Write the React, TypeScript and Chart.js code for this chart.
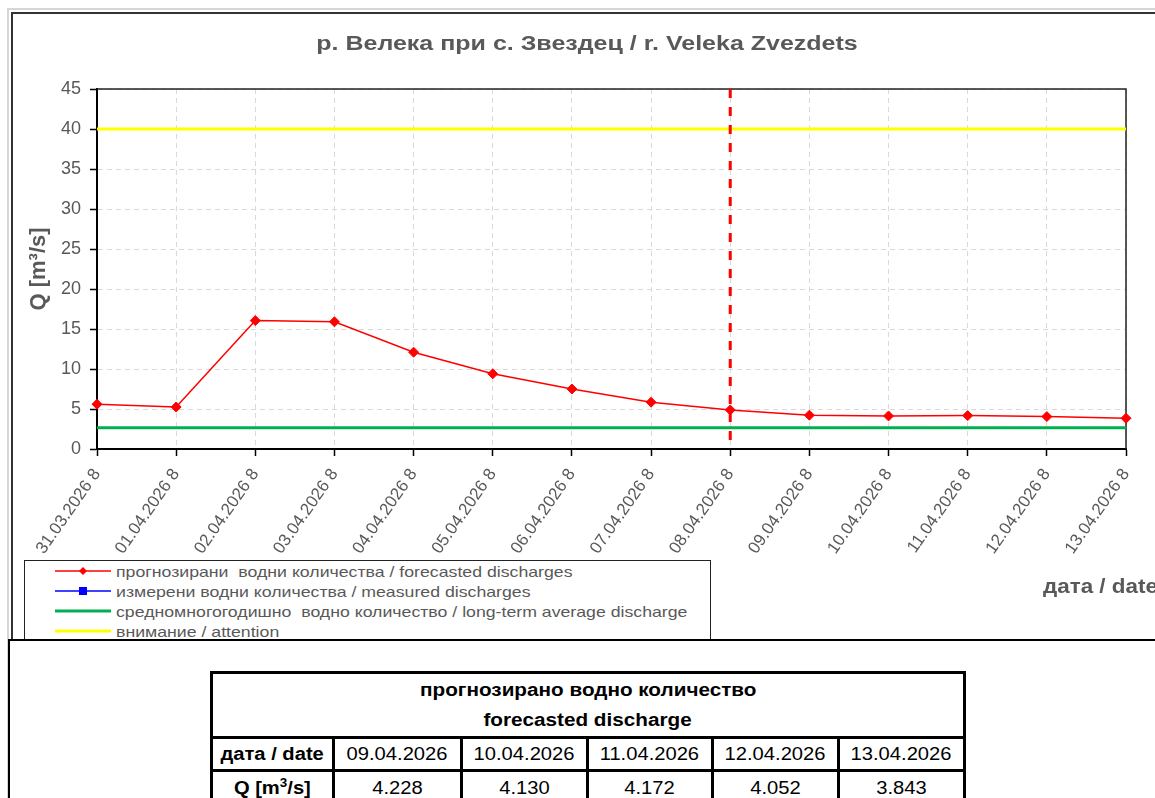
import React, { useEffect, useRef } from 'react';
import { Chart, registerables } from 'chart.js';

Chart.register(...registerables);

const FONT = '"Liberation Sans", Arial, Helvetica, sans-serif';

// ---------- data ----------
const chartTitle = 'р. Велека при с. Звездец / r. Veleka Zvezdets';
const yAxisTitle = 'Q [m³/s]';
const xAxisTitle = 'дата / date';

const categories = [
  '31.03.2026 8',
  '01.04.2026 8',
  '02.04.2026 8',
  '03.04.2026 8',
  '04.04.2026 8',
  '05.04.2026 8',
  '06.04.2026 8',
  '07.04.2026 8',
  '08.04.2026 8',
  '09.04.2026 8',
  '10.04.2026 8',
  '11.04.2026 8',
  '12.04.2026 8',
  '13.04.2026 8',
];

const forecast = [5.6, 5.25, 16.05, 15.9, 12.1, 9.4, 7.5, 5.85, 4.88, 4.228, 4.13, 4.172, 4.052, 3.843];
const measured: (number | null)[] = [];
const longTermAverage = 2.65;
const attentionLevel = 40;
const forecastStartIndex = 8;

const yMin = 0;
const yMax = 45;
const yStep = 5;

const legendLabels = [
  'прогнозирани  водни количества / forecasted discharges',
  'измерени водни количества / measured discharges',
  'средномногогодишно  водно количество / long-term average discharge',
  'внимание / attention',
];

const tableTitle = ['прогнозирано водно количество', 'forecasted discharge'];
const tableDateHeader = 'дата / date';
const tableDates = ['09.04.2026', '10.04.2026', '11.04.2026', '12.04.2026', '13.04.2026'];
const tableValues = [4.228, 4.13, 4.172, 4.052, 3.843];

// ---------- styles ----------
const GRAY_TEXT = '#595959';

function Stretch({ children, scale = 1.15, origin = 'left center', style = {} }: any) {
  return (
    <span
      style={{
        display: 'inline-block',
        transform: `scaleX(${scale})`,
        transformOrigin: origin,
        whiteSpace: 'pre',
        ...style,
      }}
    >
      {children}
    </span>
  );
}

function LegendSample({ kind }: { kind: number }) {
  const w = 56;
  const h = 12;
  const cy = h / 2;
  if (kind === 0) {
    return (
      <svg width={w} height={h}>
        <line x1={0} y1={cy} x2={w} y2={cy} stroke="#ff0000" strokeWidth={1.5} />
        <polygon points={`${w / 2 - 4},${cy} ${w / 2},${cy - 4} ${w / 2 + 4},${cy} ${w / 2},${cy + 4}`} fill="#ff0000" />
      </svg>
    );
  }
  if (kind === 1) {
    return (
      <svg width={w} height={h}>
        <line x1={0} y1={cy} x2={w} y2={cy} stroke="#0000ff" strokeWidth={1.5} />
        <rect x={w / 2 - 4} y={cy - 4} width={8} height={8} fill="#0000ff" />
      </svg>
    );
  }
  const color = kind === 2 ? '#00b050' : '#ffff00';
  return (
    <svg width={w} height={h}>
      <line x1={0} y1={cy} x2={w} y2={cy} stroke={color} strokeWidth={3.2} />
    </svg>
  );
}

export default function App() {
  const canvasRef = useRef<HTMLCanvasElement | null>(null);

  useEffect(() => {
    const canvas = canvasRef.current;
    if (!canvas) return;
    const last = categories.length - 1;

    const framePlugin = {
      id: 'plotFrame',
      beforeDatasetsDraw(chart: any) {
        const { ctx, chartArea: a } = chart;
        ctx.save();
        ctx.strokeStyle = '#222';
        ctx.lineWidth = 1.5;
        ctx.beginPath();
        ctx.moveTo(a.left, a.top);
        ctx.lineTo(a.right, a.top);
        ctx.lineTo(a.right, a.bottom);
        ctx.stroke();
        ctx.restore();
      },
    };

    const forecastStartPlugin = {
      id: 'forecastStart',
      afterDatasetsDraw(chart: any) {
        const { ctx, chartArea: a } = chart;
        const x = chart.scales.x.getPixelForValue(forecastStartIndex);
        ctx.save();
        ctx.strokeStyle = '#ff0000';
        ctx.lineWidth = 3;
        ctx.setLineDash([9, 9]);
        ctx.beginPath();
        ctx.moveTo(x, a.top);
        ctx.lineTo(x, a.bottom);
        ctx.stroke();
        ctx.restore();
      },
    };

    const chart = new Chart(canvas, {
      type: 'line',
      data: {
        labels: categories,
        datasets: [
          {
            label: legendLabels[0],
            data: forecast,
            borderColor: '#ff0000',
            backgroundColor: '#ff0000',
            borderWidth: 1.5,
            pointStyle: 'rectRot',
            pointRadius: 5,
            pointBorderWidth: 1,
            tension: 0,
            order: 1,
          },
          {
            label: legendLabels[1],
            data: measured,
            borderColor: '#0000ff',
            backgroundColor: '#0000ff',
            borderWidth: 1.5,
            pointStyle: 'rect',
            pointRadius: 4,
            order: 2,
          },
          {
            label: legendLabels[2],
            data: [
              { x: categories[0], y: longTermAverage },
              { x: categories[last], y: longTermAverage },
            ],
            borderColor: '#00b050',
            borderWidth: 3,
            pointRadius: 0,
            order: 3,
          },
          {
            label: legendLabels[3],
            data: [
              { x: categories[0], y: attentionLevel },
              { x: categories[last], y: attentionLevel },
            ],
            borderColor: '#ffff00',
            borderWidth: 3,
            pointRadius: 0,
            order: 4,
          },
        ] as any,
      },
      options: {
        responsive: false,
        animation: false,
        devicePixelRatio: 1,
        layout: { padding: { top: 89, right: 29, left: 0, bottom: 0 } },
        plugins: {
          legend: { display: false },
          title: { display: false },
          tooltip: { enabled: false },
        },
        scales: {
          x: {
            type: 'category',
            offset: false,
            grid: {
              color: '#d9d9d9',
              lineWidth: 1,
              tickColor: '#000',
              tickLength: 7,
              tickWidth: 1.5,
            },
            border: { display: true, color: '#000', width: 2, dash: [5, 4] },
            ticks: {
              autoSkip: false,
              minRotation: 55,
              maxRotation: 55,
              padding: 9,
              color: GRAY_TEXT,
              font: { family: FONT, size: 17 },
            },
            afterFit: (s: any) => {
              s.height = 191;
            },
          },
          y: {
            min: yMin,
            max: yMax,
            grid: {
              color: '#d9d9d9',
              lineWidth: 1,
              tickColor: '#000',
              tickLength: 7,
              tickWidth: 1.5,
            },
            border: { display: true, color: '#000', width: 2, dash: [5, 4] },
            ticks: {
              stepSize: yStep,
              padding: 9,
              color: GRAY_TEXT,
              font: { family: FONT, size: 18 },
            },
            title: {
              display: true,
              text: yAxisTitle,
              color: GRAY_TEXT,
              font: { family: FONT, size: 22, weight: 'bold' },
              padding: { top: 26, bottom: 0 },
            },
            afterFit: (s: any) => {
              s.width = 97;
            },
          },
        },
      } as any,
      plugins: [framePlugin, forecastStartPlugin],
    });

    return () => {
      chart.destroy();
    };
  }, []);

  const abs = (left: number, top: number, extra: any = {}) => ({ position: 'absolute' as const, left, top, ...extra });

  return (
    <div
      style={{
        position: 'absolute',
        left: 0,
        top: 0,
        width: 1155,
        height: 798,
        overflow: 'hidden',
        background: '#fff',
        fontFamily: FONT,
      }}
    >
      {/* chart frame */}
      <div style={abs(7, 8, { width: 1300, height: 800, borderLeft: '2px solid #d6d6d6', borderTop: '2px solid #d6d6d6' })} />
      <div style={abs(11, 12, { width: 1300, height: 800, borderLeft: '2px solid #333', borderTop: '2px solid #333', background: '#fff' })} />

      <canvas ref={canvasRef} width={1155} height={640} style={abs(0, 0, { width: 1155, height: 640 })} />

      {/* title */}
      <div
        style={abs(587, 31, {
          transform: 'translateX(-50%)',
          fontSize: 20,
          lineHeight: '24px',
          fontWeight: 'bold',
          color: GRAY_TEXT,
          whiteSpace: 'pre',
        })}
      >
        <Stretch scale={1.25} origin="center center">{chartTitle}</Stretch>
      </div>

      {/* x axis title */}
      <div style={abs(1043, 575, { fontSize: 20, lineHeight: '22px', fontWeight: 'bold', color: GRAY_TEXT })}>
        <Stretch scale={1.12}>{xAxisTitle}</Stretch>
      </div>

      {/* legend */}
      <div style={abs(24, 560, { width: 685, height: 120, border: '1px solid #222', background: '#fff' })} />
      {legendLabels.map((label, i) => (
        <React.Fragment key={label}>
          <div style={abs(55, 561 + i * 20 + 3.5, { width: 56, height: 12, lineHeight: 0 })}>
            <LegendSample kind={i} />
          </div>
          <div style={abs(116, 562 + i * 20, { fontSize: 15, lineHeight: '20px', color: GRAY_TEXT })}>
            <Stretch scale={1.18}>{label}</Stretch>
          </div>
        </React.Fragment>
      ))}

      {/* lower box with table */}
      <div style={abs(8, 639, { width: 1300, height: 300, borderLeft: '2px solid #000', borderTop: '2px solid #000', background: '#fff' })} />
      <div
        style={abs(210, 671, {
          background: '#000',
          padding: 3,
          display: 'grid',
          gridTemplateColumns: '119px 125px 122.5px 122.5px 123px 123px',
          gridTemplateRows: '61.5px 30px 33px',
          gap: 3,
          color: '#000',
        })}
      >
        <div
          style={{
            gridColumn: '1 / -1',
            background: '#fff',
            display: 'flex',
            flexDirection: 'column',
            alignItems: 'center',
            justifyContent: 'center',
            fontWeight: 'bold',
            fontSize: 18,
            lineHeight: '30px',
          }}
        >
          {tableTitle.map((t) => (
            <div key={t}>
              <Stretch scale={1.15} origin="center center">{t}</Stretch>
            </div>
          ))}
        </div>
        <div style={cellStyle(true)}>
          <Stretch scale={1.12} origin="center center">{tableDateHeader}</Stretch>
        </div>
        {tableDates.map((d) => (
          <div key={d} style={cellStyle(false)}>
            <Stretch scale={1.12} origin="center center">{d}</Stretch>
          </div>
        ))}
        <div style={cellStyle(true)}>
          <Stretch scale={1.12} origin="center center">
            Q [m<sup style={{ fontSize: 12, lineHeight: 0 }}>3</sup>/s]
          </Stretch>
        </div>
        {tableValues.map((v, i) => (
          <div key={i} style={cellStyle(false)}>
            <Stretch scale={1.12} origin="center center">{v.toFixed(3)}</Stretch>
          </div>
        ))}
      </div>
    </div>
  );
}

function cellStyle(bold: boolean): React.CSSProperties {
  return {
    background: '#fff',
    display: 'flex',
    alignItems: 'center',
    justifyContent: 'center',
    fontWeight: bold ? 'bold' : 'normal',
    fontSize: 18,
    lineHeight: '22px',
    whiteSpace: 'pre',
  };
}
